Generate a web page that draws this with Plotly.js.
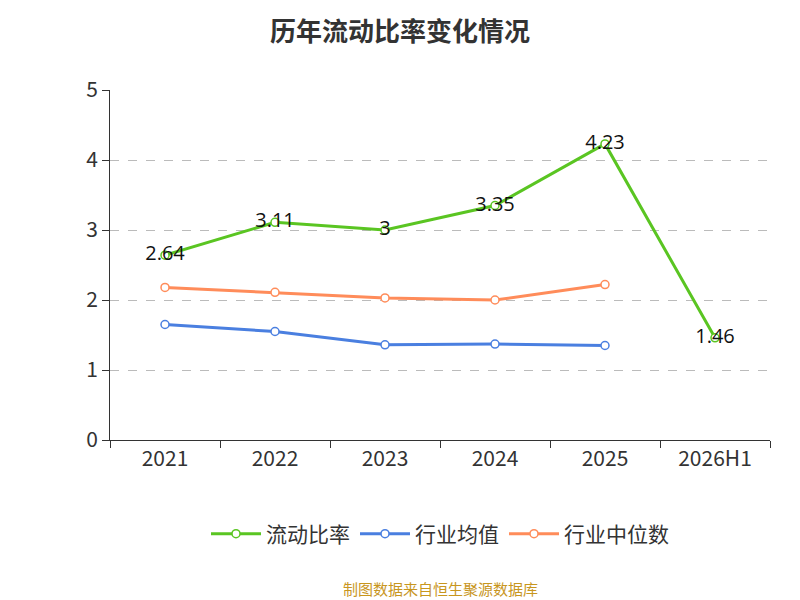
<!DOCTYPE html>
<html><head><meta charset="utf-8">
<script src="https://cdn.plot.ly/plotly-3.0.1.min.js"></script>
<style>body{margin:0}#c{width:800px;height:600px}</style>
</head><body><div id="c"></div>
<script>
var years = ['2021', '2022', '2023', '2024', '2025', '2026H1'];
var ratio = [2.64, 3.11, 3, 3.35, 4.23, 1.46];
var indMean = [1.65, 1.55, 1.36, 1.37, 1.35];
var indMedian = [2.18, 2.11, 2.03, 2.00, 2.22];

var font = 'Noto Sans CJK SC, Noto Sans, sans-serif';

var tRatio = {
  x: years, y: ratio, name: '流动比率', mode: 'lines+markers+text', type: 'scatter',
  text: ratio.map(String), textposition: 'middle center',
  textfont: {size: 20, color: '#111', family: 'Open Sans, Noto Sans, sans-serif'},
  line: {color: '#5ac522', width: 3},
  marker: {size: 8, color: '#fff', line: {color: '#5ac522', width: 1.5}}
};
var tMean = {
  x: years.slice(0, 5), y: indMean, name: '行业均值', mode: 'lines+markers', type: 'scatter',
  line: {color: '#4a7fe0', width: 3},
  marker: {size: 8, color: '#fff', line: {color: '#4a7fe0', width: 1.5}}
};
var tMedian = {
  x: years.slice(0, 5), y: indMedian, name: '行业中位数', mode: 'lines+markers', type: 'scatter',
  line: {color: '#ff8c5a', width: 3},
  marker: {size: 8, color: '#fff', line: {color: '#ff8c5a', width: 1.5}}
};

var layout = {
  width: 800, height: 600,
  margin: {l: 110, r: 30, t: 90, b: 160},
  font: {family: font, color: '#333'},
  title: {text: '<b>历年流动比率变化情况</b>', x: 0.5, xanchor: 'center', y: 0.962, font: {size: 26, color: '#333'}},
  showlegend: true,
  legend: {orientation: 'h', x: 0.5, xanchor: 'center', y: -0.21, itemwidth: 50, font: {size: 21, color: '#333'}},
  xaxis: {
    type: 'category', range: [-0.5, 5.5], showline: true, linecolor: '#333', linewidth: 1,
    ticks: 'outside', ticklen: 7, tickcolor: '#333', tickson: 'boundaries',
    tickfont: {size: 21, color: '#333'}, showgrid: false
  },
  yaxis: {
    range: [0, 5], dtick: 1, showline: true, linecolor: '#333',
    ticks: 'outside', ticklen: 7, tickcolor: '#333',
    tickfont: {size: 21, color: '#333'},
    gridcolor: '#bbb', griddash: 'dash', zeroline: false
  },
  annotations: [{
    text: '制图数据来自恒生聚源数据库', xref: 'paper', yref: 'paper',
    x: 0.5, y: -0.46, showarrow: false, font: {size: 15, color: '#c8961e'}
  }]
};

Plotly.newPlot('c', [tRatio, tMean, tMedian], layout, {displayModeBar: false});
</script></body></html>
